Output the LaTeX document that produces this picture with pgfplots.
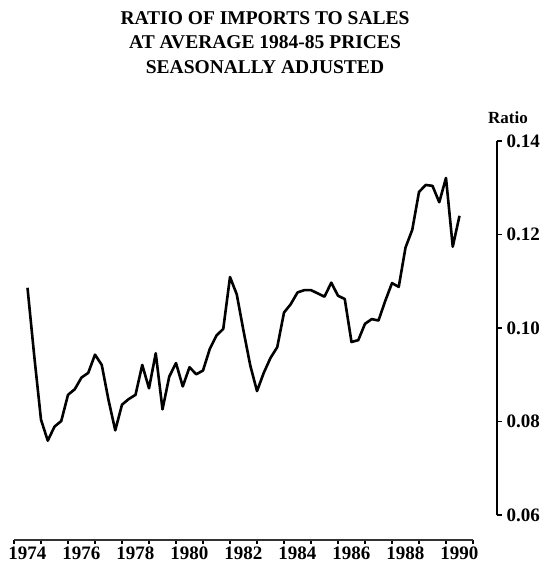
\documentclass[border=0pt]{standalone}
\usepackage{fontspec}
\setmainfont{Liberation Serif}
\usepackage{pgfplots}
\usepackage{pgfplotstable}
\pgfplotsset{compat=1.18}

\pgfplotstableread{
year ratio
1974.50 0.1086
1974.75 0.0940
1975.00 0.0804
1975.25 0.0759
1975.50 0.0789
1975.75 0.0801
1976.00 0.0857
1976.25 0.0869
1976.50 0.0894
1976.75 0.0904
1977.00 0.0943
1977.25 0.0921
1977.50 0.0846
1977.75 0.0781
1978.00 0.0836
1978.25 0.0848
1978.50 0.0857
1978.75 0.0921
1979.00 0.0871
1979.25 0.0946
1979.50 0.0826
1979.75 0.0896
1980.00 0.0925
1980.25 0.0875
1980.50 0.0916
1980.75 0.0901
1981.00 0.0909
1981.25 0.0955
1981.50 0.0984
1981.75 0.0998
1982.00 0.1109
1982.25 0.1072
1982.50 0.0994
1982.75 0.0920
1983.00 0.0865
1983.25 0.0904
1983.50 0.0936
1983.75 0.0959
1984.00 0.1033
1984.25 0.1051
1984.50 0.1076
1984.75 0.1081
1985.00 0.1081
1985.25 0.1074
1985.50 0.1067
1985.75 0.1097
1986.00 0.1069
1986.25 0.1062
1986.50 0.0970
1986.75 0.0974
1987.00 0.1009
1987.25 0.1019
1987.50 0.1016
1987.75 0.1058
1988.00 0.1096
1988.25 0.1088
1988.50 0.1172
1988.75 0.1210
1989.00 0.1291
1989.25 0.1306
1989.50 0.1304
1989.75 0.1269
1990.00 0.1321
1990.25 0.1174
1990.50 0.1240
}\datatable

\begin{document}
\begin{tikzpicture}[x=1pt,y=1pt]
\useasboundingbox (0,0) rectangle (548,567);
\node[align=center, anchor=north, inner sep=0pt,
      font=\bfseries\fontsize{19.5}{24.5}\selectfont] at (265,556)
  {RATIO OF IMPORTS TO SALES\\AT AVERAGE 1984-85 PRICES\\SEASONALLY ADJUSTED};
\node[anchor=base west, inner sep=0pt, font=\bfseries\fontsize{17}{17}\selectfont]
  at (488,443) {Ratio};

\begin{axis}[
  at={(14pt,27pt)}, anchor=south west,
  scale only axis, width=459pt, height=399pt,
  xmin=1974, xmax=1991, ymin=0.05465, ymax=0.14,
  axis x line*=bottom, hide y axis,
  axis line style={-, line width=1.1pt, black!80},
  xtick={1974,...,1991},
  x tick label as interval,
  xticklabels={1974,,1976,,1978,,1980,,1982,,1984,,1986,,1988,,1990,},
  xticklabel style={font=\bfseries\fontsize{19}{19}\selectfont, yshift=1pt},
  tick align=outside, major tick length=4pt,
  x tick style={line width=1.1pt, black},
  clip=false,
]
\addplot[black, line width=2.6pt, line join=round] table[x=year, y=ratio] {\datatable};
\end{axis}

\begin{axis}[
  at={(14pt,52pt)}, anchor=south west,
  scale only axis, width=483pt, height=374pt,
  xmin=0, xmax=1, ymin=0.06, ymax=0.14,
  axis y line*=right, hide x axis,
  axis line style={-, line width=1.6pt, black},
  ytick={0.06,0.08,0.10,0.12,0.14},
  scaled y ticks=false,
  yticklabel style={font=\bfseries\fontsize{19}{19}\selectfont, xshift=1pt,
    /pgf/number format/.cd, fixed, fixed zerofill, precision=2, assume math mode=true},
  tick align=outside, major tick length=5pt,
  y tick style={line width=1.2pt, black},
]
\end{axis}
\end{tikzpicture}
\end{document}
